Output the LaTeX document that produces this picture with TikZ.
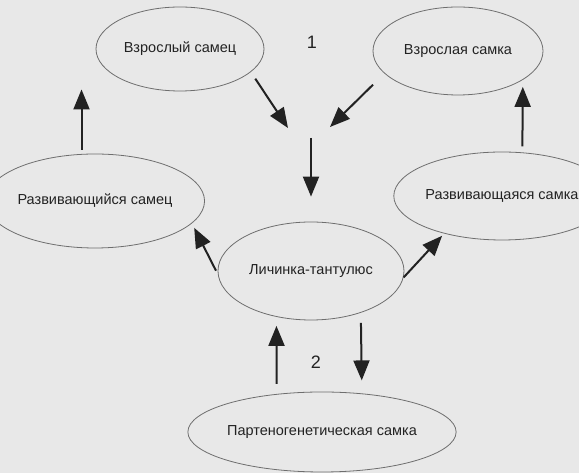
\documentclass[tikz,border=0pt]{standalone}
\usepackage{fontspec}
\setmainfont{Liberation Sans}
\usetikzlibrary{arrows.meta,shapes.geometric}
\definecolor{paper}{HTML}{E8E8E8}
\definecolor{outline}{HTML}{6E6E6E}
\definecolor{ink}{HTML}{222222}

\begin{document}
\begin{tikzpicture}[
  x=1pt, y=1pt,
  stage/.style={ellipse, draw=outline, line width=0.8pt, inner sep=0pt,
                align=center, text=ink, font=\fontsize{14.5}{16}\selectfont},
  digit/.style={text=ink, font=\fontsize{18}{20}\selectfont},
  link/.style={-{Triangle[length=20pt,width=16pt]}, line width=2pt, draw=ink},
]

\path[use as bounding box, fill=paper] (0,0) rectangle (579,473);

\node[stage, minimum width=168pt, minimum height=84pt] (male) at (180,424) {Взрослый самец};
\node[stage, minimum width=170pt, minimum height=88pt] (female) at (458,422) {Взрослая самка};
\node[stage, minimum width=176pt, minimum height=94pt] (dmale) at (95,272) {Развивающийся самец};
\node[stage, minimum width=174pt, minimum height=88pt] (dfemale) at (502,277) {Развивающаяся самка};
\node[stage, minimum width=186pt, minimum height=98pt] (larva) at (311,202) {Личинка-тантулюс};
\node[stage, minimum width=216pt, minimum height=80pt] (parth) at (322,41) {Партеногенетическая самка};

\node[digit] (one) at (312,431) {1};
\node[digit] (two) at (316,111) {2};
\coordinate (mate) at (311,335);

% mating
\draw[link, shorten <=8pt] (male.-18) -- ([xshift=-23pt,yshift=10pt]mate);
\draw[link, shorten <=16pt] (female.-163) -- ([xshift=19pt,yshift=11pt]mate);
\draw[link, shorten >=25pt] (mate) -- (larva.north);

% development
\draw[link, shorten <=4pt, shorten >=5pt] (larva.182) -- (dmale.-13);
\draw[link, shorten >=3pt] (larva.-4) -- (dfemale.213);
\draw[link, shorten <=4pt] (dmale.106) -- ++(0,64.5);
\draw[link, shorten <=6pt, shorten >=7pt] (dfemale.65) -- (female.-24);

% parthenogenesis
\draw[link, shorten <=10pt, shorten >=9pt] (parth.140) -- (larva.-127);
\draw[link, shorten <=10pt, shorten >=13pt] (larva.-40) -- (parth.44);

\end{tikzpicture}
\end{document}
